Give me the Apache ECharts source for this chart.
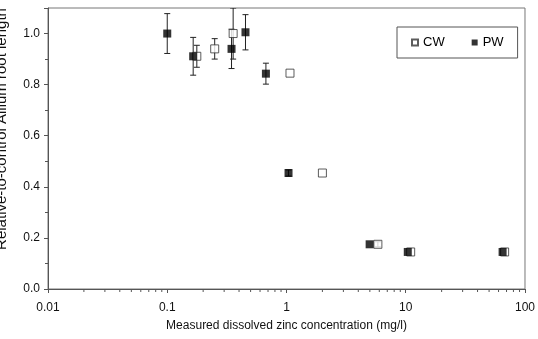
<!DOCTYPE html>
<html>
<head>
<meta charset="utf-8">
<script src="https://cdn.jsdelivr.net/npm/echarts@6/dist/echarts.min.js"></script>
<style>
  html, body { margin: 0; padding: 0; background: #fff; }
  #box { width: 538px; height: 339px; }
</style>
</head>
<body>
<div id="box"></div>
<script>
// CW / PW: concentration (mg/l), relative root length, +/- error
var cwX = [0.177, 0.25, 0.357, 1.07, 2.0, 5.84, 11, 67.5];
var cwY = [0.911, 0.94, 1.0, 0.845, 0.454, 0.175, 0.145, 0.145];
var cwErr = [0.043, 0.04, 0.1, 0, 0, 0.01, 0, 0];

var pwX = [0.1, 0.165, 0.346, 0.453, 0.672, 1.04, 4.98, 10.4, 64.9];
var pwY = [1.0, 0.911, 0.94, 1.005, 0.843, 0.454, 0.175, 0.145, 0.145];
var pwErr = [0.078, 0.074, 0.077, 0.069, 0.041, 0.012, 0, 0, 0];

var xDecades = [0.01, 0.1, 1, 10];
var minorSteps = [2, 3, 4, 5, 6, 7, 8, 9];

var fontFam = '"Liberation Sans", Arial, sans-serif';

function pts(xs, ys) {
    return xs.map(function (x, i) { return [x, ys[i]]; });
}
function errPts(xs, ys, es) {
    return xs.map(function (x, i) { return [x, ys[i], es[i]]; });
}
var minorTicks = [];
xDecades.forEach(function (d) {
    minorSteps.forEach(function (s) { minorTicks.push([d * s, 0]); });
});

function errorBar(params, api) {
    var x = api.value(0), y = api.value(1), e = api.value(2);
    if (!e) return null;
    var top = api.coord([x, y + e]);
    var bot = api.coord([x, y - e]);
    var w = 3;
    var st = { stroke: '#222', lineWidth: 1 };
    return {
        type: 'group',
        children: [
            { type: 'line', shape: { x1: top[0], y1: top[1], x2: bot[0], y2: bot[1] }, style: st },
            { type: 'line', shape: { x1: top[0] - w, y1: top[1], x2: top[0] + w, y2: top[1] }, style: st },
            { type: 'line', shape: { x1: bot[0] - w, y1: bot[1], x2: bot[0] + w, y2: bot[1] }, style: st }
        ]
    };
}

var myChart = echarts.init(document.getElementById('box'));
var option = {
    animation: false,
    textStyle: { fontFamily: fontFam },
    grid: {
        left: 48, right: 10, top: 8, bottom: 50,
        show: true,
        borderColor: '#777',
        borderWidth: 1
    },
    legend: {
        data: ['CW', 'PW'],
        left: 397, top: 27,
        orient: 'horizontal',
        padding: [9, 14, 9, 14],
        itemGap: 27,
        itemWidth: 6, itemHeight: 6,
        borderColor: '#555',
        borderWidth: 1,
        textStyle: { fontSize: 13, color: '#000', fontFamily: fontFam }
    },
    graphic: [{
        type: 'text',
        x: 9, y: 129,
        rotation: Math.PI / 2,
        style: {
            text: 'Relative-to-control Allium root length',
            font: '15px ' + fontFam,
            fill: '#111',
            textAlign: 'center',
            textVerticalAlign: 'bottom'
        }
    }],
    xAxis: {
        type: 'log',
        logBase: 10,
        min: 0.01, max: 100,
        name: 'Measured dissolved zinc concentration (mg/l)',
        nameLocation: 'middle',
        nameGap: 31,
        nameTextStyle: { fontSize: 12, color: '#111' },
        axisLine: { lineStyle: { color: '#555' } },
        axisTick: { inside: false, length: 4, lineStyle: { color: '#555' } },
        axisLabel: {
            fontSize: 12, color: '#111', margin: 13,
            formatter: function (v) { return String(v); }
        },
        splitLine: { show: false }
    },
    yAxis: {
        type: 'value',
        min: 0, max: 1.1, interval: 0.2,
        axisLine: { show: true, lineStyle: { color: '#555' } },
        axisTick: { show: true, length: 4, lineStyle: { color: '#555' } },
        minorTick: { show: true, splitNumber: 2, length: 3, lineStyle: { color: '#555' } },
        axisLabel: {
            fontSize: 12, color: '#111', margin: 8,
            showMaxLabel: false,
            formatter: function (v) { return v.toFixed(1); }
        },
        splitLine: { show: false }
    },
    series: [
        {
            name: 'minorTicks',
            type: 'custom',
            clip: false,
            silent: true,
            encode: { x: 0, y: 1 },
            data: minorTicks,
            renderItem: function (params, api) {
                var p = api.coord([api.value(0), 0]);
                return {
                    type: 'line',
                    shape: { x1: p[0], y1: p[1], x2: p[0], y2: p[1] + 3 },
                    style: { stroke: '#555', lineWidth: 1 }
                };
            }
        },
        {
            name: 'cwErr', type: 'custom', clip: true, silent: true,
            encode: { x: 0, y: 1 },
            data: errPts(cwX, cwY, cwErr),
            renderItem: errorBar
        },
        {
            name: 'pwErr', type: 'custom', clip: true, silent: true,
            encode: { x: 0, y: 1 },
            data: errPts(pwX, pwY, pwErr),
            renderItem: errorBar
        },
        {
            name: 'CW',
            type: 'scatter',
            symbol: 'rect',
            symbolSize: 8,
            itemStyle: { color: '#fff', borderColor: '#333', borderWidth: 1 },
            data: pts(cwX, cwY)
        },
        {
            name: 'PW',
            type: 'scatter',
            symbol: 'rect',
            symbolSize: 8,
            itemStyle: { color: '#000' },
            data: pts(pwX, pwY)
        }
    ]
};
myChart.setOption(option);
</script>
</body>
</html>
